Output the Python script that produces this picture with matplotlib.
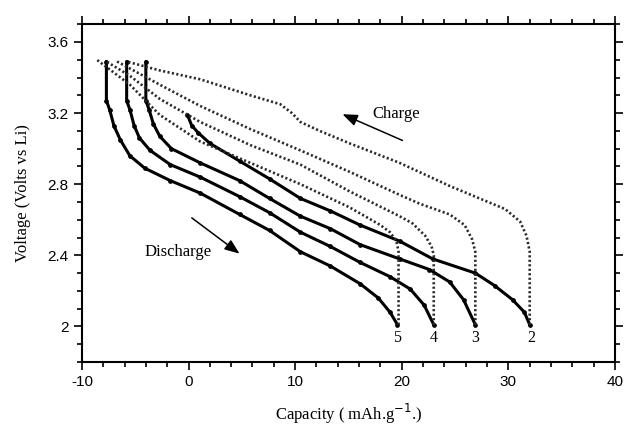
import numpy as np
import matplotlib.pyplot as plt
from matplotlib.ticker import MultipleLocator

# -----------------------------------------------------------------------------
# Discharge curves (capacity in mAh/g, voltage in V vs Li), cycles 2..5
d2_x = [-0.1, 0.3, 0.9, 2.0, 4.8, 7.6, 10.5, 13.3, 16.1, 19.8, 22.9, 26.9, 28.7, 30.4, 31.5, 32.0]
d2_v = [3.19, 3.13, 3.09, 3.03, 2.93, 2.83, 2.72, 2.65, 2.57, 2.48, 2.38, 2.30, 2.23, 2.15, 2.08, 2.01]

d3_x = [-4.0, -4.0, -3.7, -3.3, -2.7, -1.6, 1.1, 4.8, 7.6, 10.5, 13.3, 16.1, 19.8, 22.6, 24.5, 25.8, 26.9]
d3_v = [3.49, 3.27, 3.22, 3.14, 3.07, 3.00, 2.92, 2.82, 2.72, 2.62, 2.55, 2.46, 2.38, 2.32, 2.25, 2.15, 2.01]

d4_x = [-5.8, -5.8, -5.5, -5.1, -4.6, -3.6, -1.7, 1.1, 4.8, 7.6, 10.5, 13.3, 16.1, 18.9, 20.8, 22.1, 23.0]
d4_v = [3.49, 3.27, 3.22, 3.13, 3.06, 2.99, 2.91, 2.84, 2.73, 2.64, 2.53, 2.45, 2.36, 2.28, 2.21, 2.12, 2.01]

d5_x = [-7.7, -7.7, -7.4, -7.0, -6.4, -5.5, -4.1, -1.7, 1.1, 4.8, 7.6, 10.5, 13.3, 16.1, 17.8, 18.9, 19.6]
d5_v = [3.49, 3.27, 3.22, 3.13, 3.05, 2.96, 2.89, 2.82, 2.75, 2.63, 2.54, 2.42, 2.34, 2.24, 2.16, 2.08, 2.01]

# Charge curves (start at end of discharge, go back up to the left)
c2_x = [32.0, 32.0, 31.7, 31.1, 29.7, 27.3, 24.5, 19.8, 15.1, 12.3, 10.5, 9.7, 8.6, 5.8, 1.1, -2.7, -5.8]
c2_v = [2.01, 2.42, 2.51, 2.59, 2.66, 2.72, 2.79, 2.92, 3.03, 3.10, 3.15, 3.20, 3.25, 3.30, 3.39, 3.44, 3.49]

c3_x = [26.9, 26.9, 26.6, 25.9, 24.5, 21.7, 19.8, 15.1, 10.5, 5.8, 1.1, -2.7, -6.7]
c3_v = [2.01, 2.42, 2.49, 2.57, 2.63, 2.69, 2.74, 2.87, 2.99, 3.11, 3.24, 3.36, 3.49]

c4_x = [23.0, 23.0, 22.8, 22.2, 21.0, 19.8, 15.1, 10.5, 5.8, 1.1, -2.7, -5.5, -7.7]
c4_v = [2.01, 2.40, 2.45, 2.51, 2.58, 2.62, 2.76, 2.91, 3.02, 3.15, 3.28, 3.41, 3.49]

c5_x = [19.7, 19.7, 19.5, 18.9, 18.0, 15.1, 10.5, 5.8, 1.1, -2.7, -5.5, -8.6]
c5_v = [2.01, 2.42, 2.48, 2.53, 2.57, 2.67, 2.80, 2.92, 3.04, 3.19, 3.36, 3.50]

cycle_labels = ['5', '4', '3', '2']
label_x = [19.6, 23.0, 26.9, 32.1]

# -----------------------------------------------------------------------------
plt.rcParams['font.family'] = ['Liberation Sans', 'DejaVu Sans']
plt.rcParams['axes.unicode_minus'] = False
serif = ['Liberation Serif', 'DejaVu Serif']

fig = plt.figure(figsize=(6.25, 4.32), dpi=100)
ax = fig.add_axes([0.131, 0.162, 0.853, 0.782])

for x, v in [(d2_x, d2_v), (d3_x, d3_v), (d4_x, d4_v), (d5_x, d5_v)]:
    ax.plot(x, v, color='black', lw=2.2, marker='o', ms=2.4, solid_capstyle='round')

for x, v in [(c2_x, c2_v), (c3_x, c3_v), (c4_x, c4_v), (c5_x, c5_v)]:
    ax.plot(x, v, color='#2a2a2a', lw=1.9, linestyle=(0, (0.8, 0.9)))

# cycle numbers under each discharge end
for lab, xl in zip(cycle_labels, label_x):
    ax.text(xl, 1.935, lab, ha='center', va='center', fontsize=11.5, family=serif)

# arrows + labels
ax.annotate('', xy=(14.2, 3.20), xytext=(20.3, 3.04),
            arrowprops=dict(arrowstyle='-|>,head_length=0.9,head_width=0.35', color='black', lw=1.1))
ax.text(17.2, 3.195, 'Charge', ha='left', va='center', fontsize=12, family=serif)
ax.annotate('', xy=(5.0, 2.40), xytext=(0.1, 2.62),
            arrowprops=dict(arrowstyle='-|>,head_length=0.9,head_width=0.35', color='black', lw=1.1))
ax.text(-1.0, 2.42, 'Discharge', ha='center', va='center', fontsize=12, family=serif)

ax.set_xlim(-10, 40)
ax.set_ylim(1.8, 3.7)
ax.xaxis.set_major_locator(MultipleLocator(10))
ax.xaxis.set_minor_locator(MultipleLocator(2))
ax.yaxis.set_major_locator(MultipleLocator(0.4))
ax.yaxis.set_minor_locator(MultipleLocator(0.1))
ax.yaxis.set_major_formatter(plt.FuncFormatter(lambda v, p: f'{v:g}'))
ax.tick_params(which='both', direction='out', top=True, right=True, labelsize=11, width=1.2)
ax.tick_params(which='major', length=6)
ax.tick_params(which='minor', length=3.5)
for s in ax.spines.values():
    s.set_linewidth(1.5)

ax.set_xlabel('Capacity ( mAh.g$^{-1}$.)', family=serif, fontsize=12, labelpad=9)
ax.set_ylabel('Voltage (Volts vs Li)', family=serif, fontsize=12, labelpad=12)

fig.savefig('out.png', dpi=100)
